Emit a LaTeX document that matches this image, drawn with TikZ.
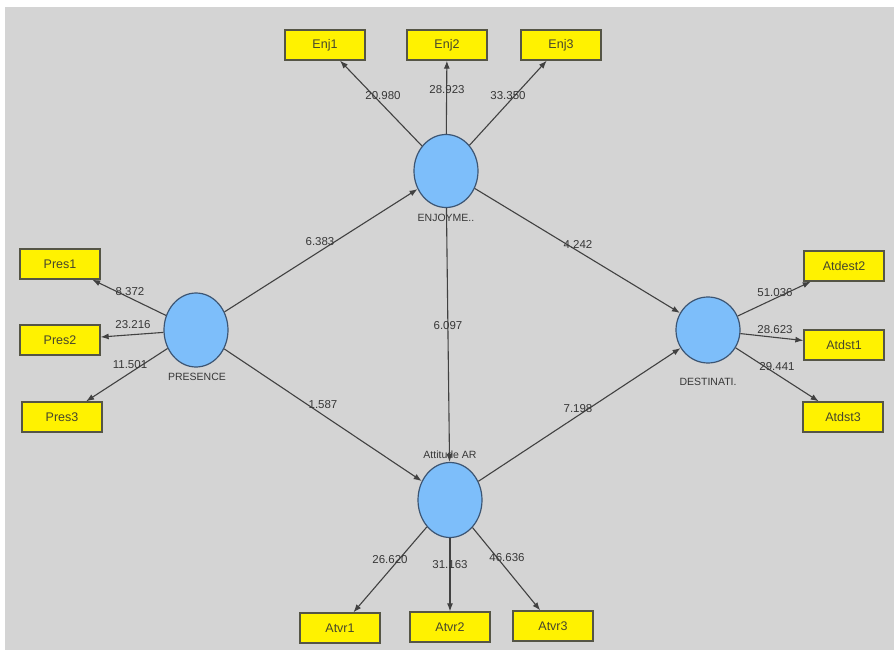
\documentclass[tikz,border=0pt]{standalone}
\usepackage{fontspec}
\setmainfont{Liberation Sans}
\usetikzlibrary{arrows.meta,shapes.geometric}
\definecolor{bg}{RGB}{212,212,212}
\definecolor{boxdraw}{RGB}{85,85,70}
\definecolor{boxtext}{RGB}{70,70,45}
\definecolor{latfill}{RGB}{125,190,250}
\definecolor{latdraw}{RGB}{60,85,115}
\definecolor{linec}{RGB}{65,65,65}
\definecolor{numc}{RGB}{55,55,55}
\begin{document}
\begin{tikzpicture}[x=1pt,y=-1pt,
  ind/.style={draw=boxdraw, fill=yellow, minimum width=80pt, minimum height=30pt, inner sep=0pt, line width=1.3pt, font=\fontsize{12.5}{13}\selectfont, text=boxtext},
  lat/.style={ellipse, draw=latdraw, fill=latfill, inner sep=0pt, line width=1.2pt},
  arr/.style={draw=linec, line width=1.1pt, -{Latex[length=8pt,width=6pt]}},
  num/.style={font=\fontsize{11.5}{12}\selectfont, text=numc, inner sep=0pt},
  lbl/.style={font=\fontsize{10.5}{11}\selectfont, text=numc, inner sep=0pt}]
\useasboundingbox (0,0) rectangle (894,650);
\fill[white] (0,0) rectangle (894,650);
\fill[bg] (5,7) rectangle (894,650);

% latent variables
\node[lat, minimum width=64pt, minimum height=73pt] (enj) at (446,171) {};
\node[lat, minimum width=64pt, minimum height=74pt] (pres) at (196,330) {};
\node[lat, minimum width=64pt, minimum height=66pt] (dest) at (708,330) {};
\node[lat, minimum width=64pt, minimum height=75pt] (att) at (450,500) {};

% indicators
\node[ind] (enj1) at (325,45) {Enj1};
\node[ind] (enj2) at (447,45) {Enj2};
\node[ind] (enj3) at (561,45) {Enj3};
\node[ind] (pres1) at (60,264) {Pres1};
\node[ind] (pres2) at (60,340) {Pres2};
\node[ind] (pres3) at (62,417) {Pres3};
\node[ind] (atdest2) at (844,266) {Atdest2};
\node[ind] (atdst1) at (844,345) {Atdst1};
\node[ind] (atdst3) at (843,417) {Atdst3};
\node[ind] (atvr1) at (340,628) {Atvr1};
\node[ind] (atvr2) at (450,627) {Atvr2};
\node[ind] (atvr3) at (553,626) {Atvr3};

% latent labels
\node[lbl] (lenj) at (446,218) {ENJOYME..};
\node[lbl] (lpres) at (197,377) {PRESENCE};
\node[lbl] (ldest) at (708,382) {DESTINATI.};
\node[lbl] (latt) at (450,455) {Attitude AR};

% structural paths
\draw[arr] (pres) -- (enj);
\draw[arr] (pres) -- (att);
\draw[arr] (enj) -- (dest);
\draw[arr] (enj) -- (att);
\draw[arr] (att) -- (dest);

% outer loadings
\draw[arr] (enj) -- (enj1);
\draw[arr] (enj) -- (enj2);
\draw[arr] (enj) -- (enj3);
\draw[arr] (pres) -- (pres1);
\draw[arr] (pres) -- (pres2);
\draw[arr] (pres) -- (pres3);
\draw[arr] (dest) -- (atdest2);
\draw[arr] (dest) -- (atdst1);
\draw[arr] (dest) -- (atdst3);
\draw[arr] (att) -- (atvr1);
\draw[arr] (att) -- (atvr2);
\draw[arr] (att) -- (atvr3);

% values
\node[num] (v1) at (383,96) {20.980};
\node[num] (v2) at (447,90) {28.923};
\node[num] (v3) at (508,96) {33.350};
\node[num] (v4) at (130,292) {8.372};
\node[num] (v5) at (133,325) {23.216};
\node[num] (v6) at (130,365) {11.501};
\node[num] (v7) at (775,293) {51.036};
\node[num] (v8) at (775,330) {28.623};
\node[num] (v9) at (777,367) {29.441};
\node[num] (v10) at (390,560) {26.620};
\node[num] (v11) at (450,565) {31.163};
\node[num] (v12) at (507,558) {46.636};
\node[num] (v13) at (320,242) {6.383};
\node[num] (v14) at (578,244) {4.242};
\node[num] (v15) at (448,326) {6.097};
\node[num] (v16) at (323,405) {1.587};
\node[num] (v17) at (578,409) {7.198};
\end{tikzpicture}
\end{document}
